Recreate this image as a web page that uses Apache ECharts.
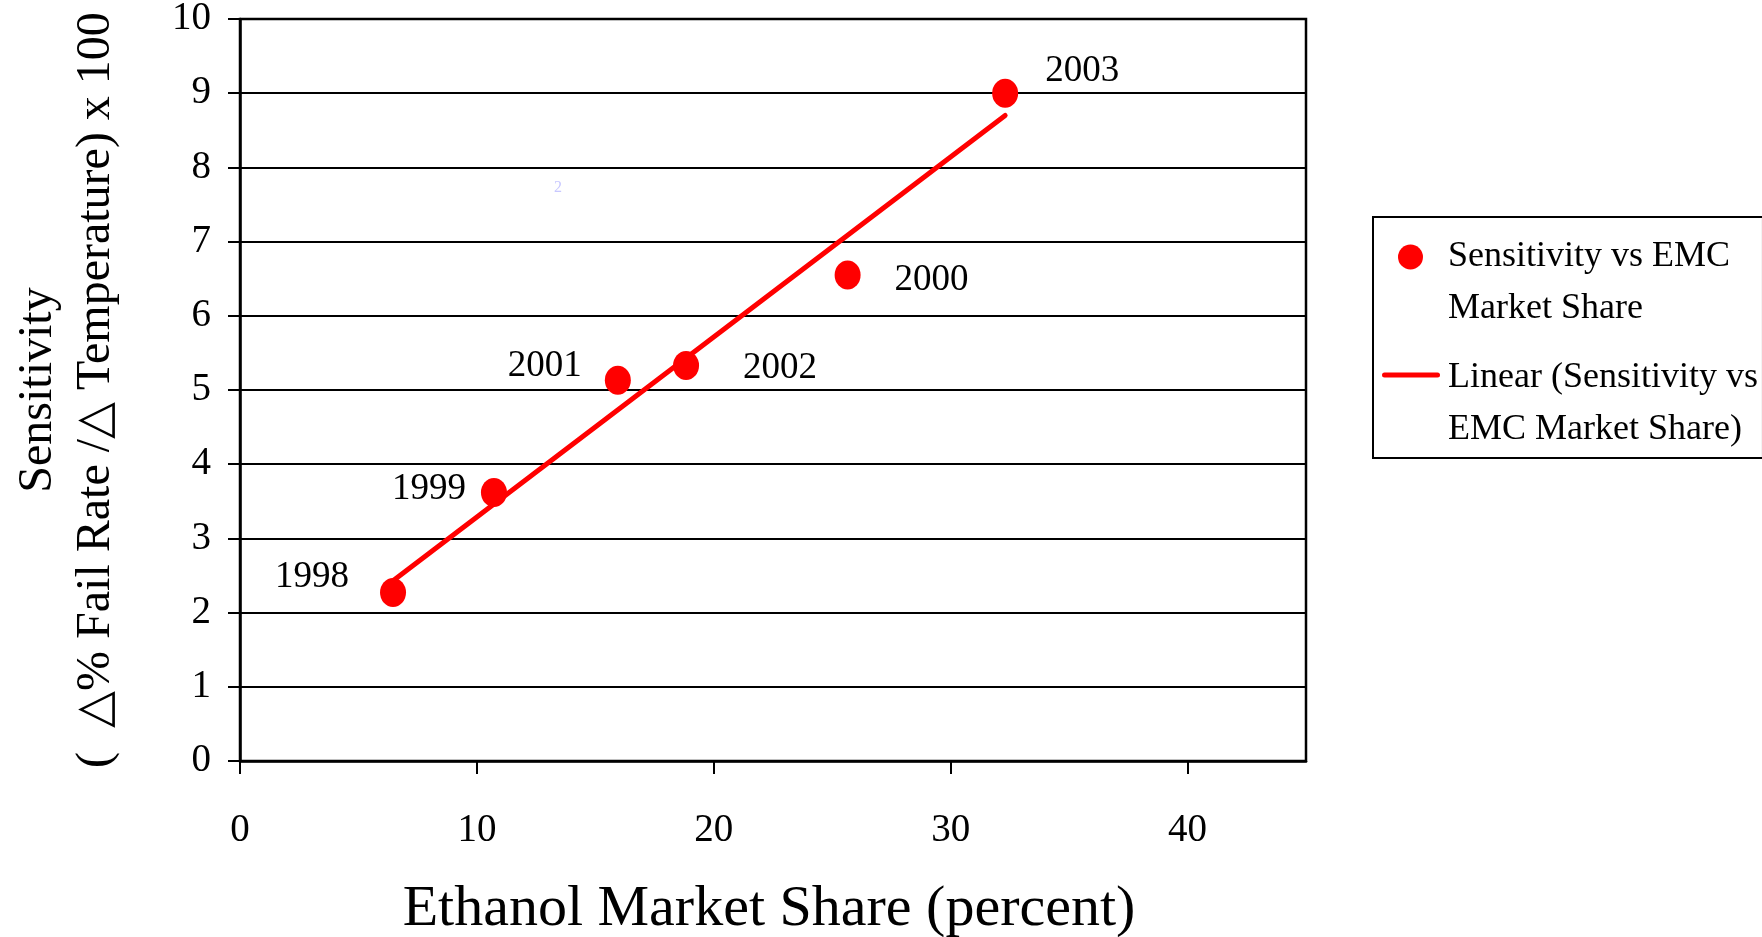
<!DOCTYPE html>
<html>
<head>
<meta charset="utf-8">
<script src="https://cdn.jsdelivr.net/npm/echarts@6.0.0/dist/echarts.min.js"></script>
<style>
  html, body { margin: 0; padding: 0; background: #fff; }
  #chart { width: 1762px; height: 937px; }
</style>
</head>
<body>
<div id="chart"></div>
<script>
  // values
  const years = ['1998', '1999', '2000', '2001', '2002', '2003'];
  const marketShare = [6.46, 10.72, 25.65, 15.95, 18.83, 32.3];
  const sensitivity = [2.27, 3.62, 6.55, 5.13, 5.33, 9.0];
  // Excel linear trendline, ends as drawn
  const trendShare = [6.46, 32.3];
  const trendSensitivity = [2.43, 8.70];
  const xTicks = [0, 10, 20, 30, 40];

  const scatterName = 'Sensitivity vs EMC Market Share';
  const lineName = 'Linear (Sensitivity vs EMC Market Share)';
  const legendText = {};
  legendText[scatterName] = 'Sensitivity vs EMC\nMarket Share';
  legendText[lineName] = 'Linear (Sensitivity vs\nEMC Market Share)';

  // where each year label sits relative to its point (px)
  const labelOffset = {
    '1998': [-81, -15],
    '1999': [-65, -3],
    '2000': [84, 5],
    '2001': [-73, -14],
    '2002': [94, 3],
    '2003': [77, -22]
  };

  const serif = 'Liberation Serif, Times New Roman, serif';
  const red = '#ff0000';

  // legend icons drawn in a 61x104 box so they line up with the first text line
  const dotIcon = 'path://M0 0M61 104M16 26A12.5 12.5 0 1 1 41 26A12.5 12.5 0 1 1 16 26Z';
  const lineIcon = 'path://M0 0M61 104M2.5 20.5L55.5 20.5A2.5 2.5 0 0 1 55.5 25.5L2.5 25.5A2.5 2.5 0 0 1 2.5 20.5Z';

  const points = marketShare.map((x, i) => ({
    value: [x, sensitivity[i]],
    label: { offset: labelOffset[years[i]] }
  }));
  const trend = trendShare.map((x, i) => [x, trendSensitivity[i]]);

  const chart = echarts.init(document.getElementById('chart'));
  const option = {
    animation: false,
    backgroundColor: '#fff',
    grid: {
      left: 240,
      right: 456,
      top: 19,
      bottom: 176,
      outerBoundsMode: 'none',
      show: true,
      borderColor: '#000',
      borderWidth: 2.5,
      backgroundColor: 'transparent'
    },
    xAxis: {
      type: 'value',
      min: 0,
      max: 45,
      interval: 10,
      name: 'Ethanol Market Share (percent)',
      nameLocation: 'middle',
      nameGap: 120,
      nameTextStyle: { fontFamily: serif, fontSize: 58, color: '#000', padding: [0, 8, 0, 0] },
      axisLine: { show: true, lineStyle: { color: '#000', width: 2.5 } },
      axisTick: { show: true, length: 13, customValues: xTicks, lineStyle: { color: '#000', width: 2 } },
      axisLabel: { margin: 50, customValues: xTicks, fontFamily: serif, fontSize: 39, color: '#000' },
      splitLine: { show: false }
    },
    yAxis: {
      type: 'value',
      min: 0,
      max: 10,
      interval: 1,
      name: 'Sensitivity\n(  \u25B3% Fail Rate /\u25B3 Temperature) x 100',
      nameLocation: 'middle',
      nameRotate: 90,
      nameGap: 115,
      nameTextStyle: { fontFamily: serif, fontSize: 48, lineHeight: 58, color: '#000' },
      axisLine: { show: true, lineStyle: { color: '#000', width: 2.5 } },
      axisTick: { show: true, length: 12, lineStyle: { color: '#000', width: 2 } },
      axisLabel: { margin: 29, fontFamily: serif, fontSize: 39, color: '#000' },
      splitLine: { show: true, lineStyle: { color: '#000', width: 2 } }
    },
    legend: {
      orient: 'vertical',
      left: 1373,
      top: 217,
      padding: [14, 5, 2, 9],
      itemWidth: 61,
      itemHeight: 104,
      itemGap: 17,
      borderColor: '#000',
      borderWidth: 2,
      backgroundColor: '#fff',
      selectedMode: false,
      textStyle: { fontFamily: serif, fontSize: 36, lineHeight: 52, color: '#000' },
      formatter: name => legendText[name],
      data: [
        { name: scatterName, icon: dotIcon, itemStyle: { color: red, borderWidth: 0 } },
        { name: lineName, icon: lineIcon, itemStyle: { color: red, borderWidth: 0 } }
      ]
    },
    graphic: [
      {
        type: 'text',
        left: 554,
        top: 180,
        style: { text: '2', fill: '#c8c8ff', font: '16px ' + serif }
      }
    ],
    series: [
      {
        name: lineName,
        type: 'line',
        data: trend,
        symbol: 'none',
        color: red,
        lineStyle: { color: red, width: 5, cap: 'round' },
        z: 2
      },
      {
        name: scatterName,
        type: 'scatter',
        data: points,
        symbol: 'circle',
        symbolSize: [26, 29],
        itemStyle: { color: red, opacity: 1 },
        label: {
          show: true,
          position: 'inside',
          formatter: p => years[p.dataIndex],
          fontFamily: serif,
          fontSize: 37,
          color: '#000'
        },
        z: 3
      }
    ]
  };
  chart.setOption(option);
</script>
</body>
</html>
